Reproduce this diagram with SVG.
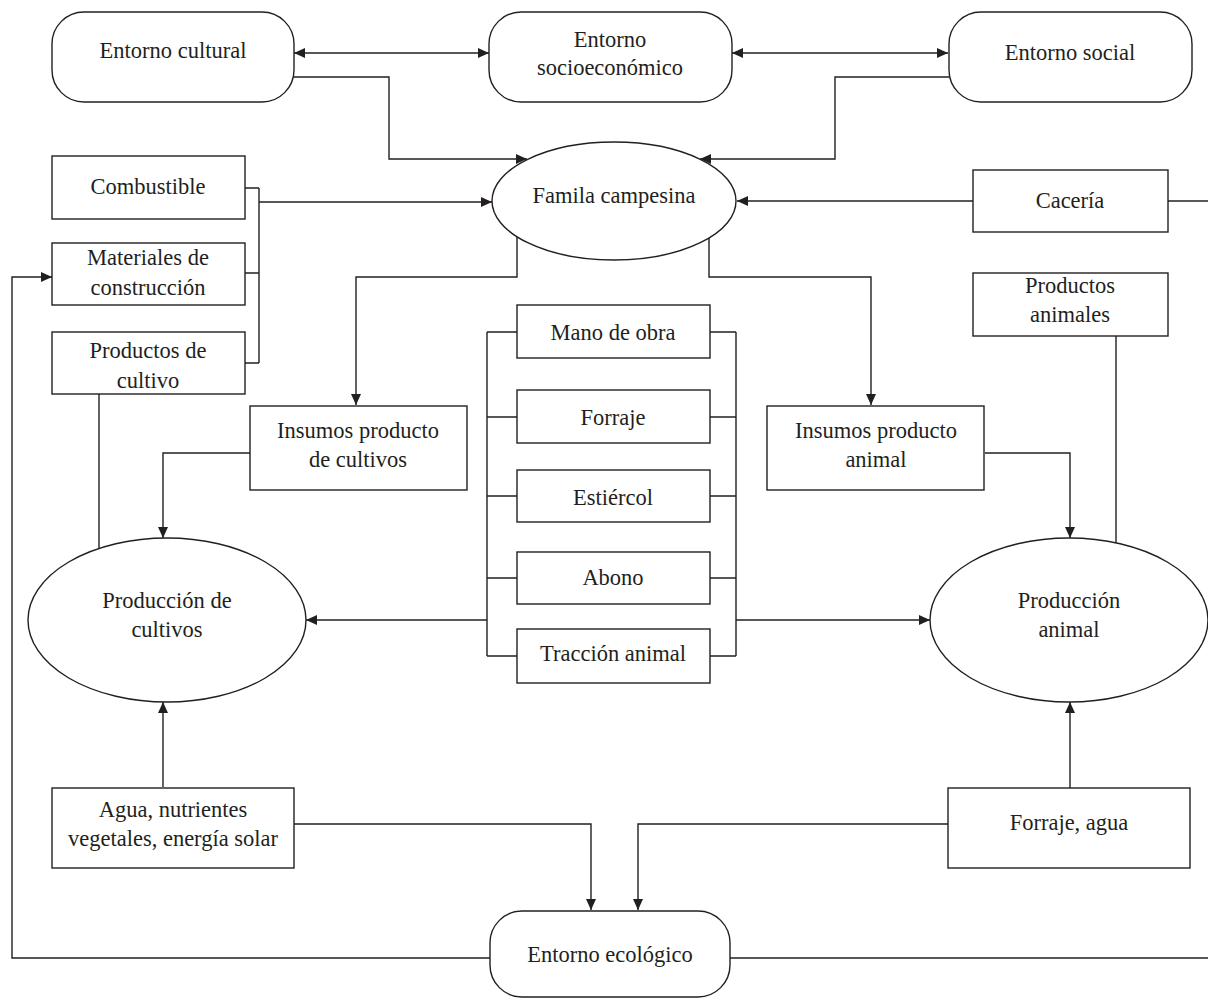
<svg xmlns="http://www.w3.org/2000/svg" width="1208" height="999" viewBox="0 0 1208 999">
<defs>
<marker id="ah" markerWidth="12" markerHeight="10" refX="11" refY="5" orient="auto-start-reverse" markerUnits="userSpaceOnUse">
<path d="M0,0 L11,5 L0,10 Z" fill="#231f20"/>
</marker>
<style>
.n{fill:#fff;stroke:#231f20;stroke-width:1.4}
.c{fill:none;stroke:#231f20;stroke-width:1.4}
.a{marker-end:url(#ah)}
.b{marker-start:url(#ah);marker-end:url(#ah)}
text{font-family:"Liberation Serif","Times New Roman",serif;font-size:22.5px;fill:#231f20;text-anchor:middle}
</style>
</defs>
<rect width="1208" height="999" fill="#fff"/>
<g id="connectors">
<path class="c b" d="M294,53 H489"/>
<path class="c b" d="M732,53 H948"/>
<path class="c a" d="M294,77 H389 V159 H527"/>
<path class="c a" d="M949,77 H835 V159 H700"/>
<path class="c" d="M245,188 H259 M245,273 H259 M245,363 H259 M259,188 V363"/>
<path class="c a" d="M259,202 H492"/>
<path class="c a" d="M973,201 H737"/>
<path class="c" d="M1168,201 H1208"/>
<path class="c a" d="M517,237 V277 H356 V405"/>
<path class="c a" d="M709,237 V277 H871 V405"/>
<path class="c a" d="M250,453 H163 V538"/>
<path class="c a" d="M985,453 H1070 V538"/>
<path class="c" d="M99,394 V549"/>
<path class="c" d="M1116,336 V543"/>
<path class="c" d="M487,332 V656 M487,332 H517 M487,417 H517 M487,496 H517 M487,578 H517 M487,656 H517"/>
<path class="c" d="M736,332 V656 M710,332 H736 M710,417 H736 M710,496 H736 M710,578 H736 M710,656 H736"/>
<path class="c a" d="M487,620 H306"/>
<path class="c a" d="M736,620 H930"/>
<path class="c a" d="M163,787 V702"/>
<path class="c a" d="M1070,788 V702"/>
<path class="c a" d="M294,824 H591 V910"/>
<path class="c a" d="M948,824 H638 V910"/>
<path class="c a" d="M490,958 H12 V277 H52"/>
<path class="c" d="M730,958 H1208"/>
</g>
<g id="entorno-cultural"><rect class="n" x="52" y="12" width="242" height="90" rx="32" ry="32"/><text x="173" y="58">Entorno cultural</text></g>
<g id="entorno-socioeconomico"><rect class="n" x="489" y="12" width="243" height="90" rx="32" ry="32"/><text x="610" y="47">Entorno</text><text x="610" y="75">socioeconómico</text></g>
<g id="entorno-social"><rect class="n" x="949" y="12" width="243" height="90" rx="32" ry="32"/><text x="1070" y="60">Entorno social</text></g>
<g id="familia"><ellipse class="n" cx="614" cy="201" rx="122" ry="59"/><text x="614" y="203">Famila campesina</text></g>
<g id="combustible"><rect class="n" x="52" y="156" width="193" height="63"/><text x="148" y="194">Combustible</text></g>
<g id="materiales"><rect class="n" x="52" y="243" width="193" height="62"/><text x="148" y="265">Materiales de</text><text x="148" y="295">construcción</text></g>
<g id="productos-cultivo"><rect class="n" x="52" y="332" width="193" height="62"/><text x="148" y="358">Productos de</text><text x="148" y="388">cultivo</text></g>
<g id="caceria"><rect class="n" x="973" y="170" width="195" height="62"/><text x="1070" y="208">Cacería</text></g>
<g id="productos-animales"><rect class="n" x="973" y="273" width="195" height="63"/><text x="1070" y="293">Productos</text><text x="1070" y="322">animales</text></g>
<g id="insumos-cultivos"><rect class="n" x="250" y="406" width="217" height="84"/><text x="358" y="438">Insumos producto</text><text x="358" y="467">de cultivos</text></g>
<g id="insumos-animal"><rect class="n" x="767" y="406" width="217" height="84"/><text x="876" y="438">Insumos producto</text><text x="876" y="467">animal</text></g>
<g id="mano-obra"><rect class="n" x="517" y="305" width="193" height="53"/><text x="613" y="340">Mano de obra</text></g>
<g id="forraje"><rect class="n" x="517" y="390" width="193" height="53"/><text x="613" y="425">Forraje</text></g>
<g id="estiercol"><rect class="n" x="517" y="470" width="193" height="52"/><text x="613" y="505">Estiércol</text></g>
<g id="abono"><rect class="n" x="517" y="552" width="193" height="52"/><text x="613" y="585">Abono</text></g>
<g id="traccion"><rect class="n" x="517" y="629" width="193" height="54"/><text x="613" y="661">Tracción animal</text></g>
<g id="produccion-cultivos"><ellipse class="n" cx="167" cy="620" rx="139" ry="82"/><text x="167" y="608">Producción de</text><text x="167" y="637">cultivos</text></g>
<g id="produccion-animal"><ellipse class="n" cx="1069" cy="620" rx="139" ry="82"/><text x="1069" y="608">Producción</text><text x="1069" y="637">animal</text></g>
<g id="agua"><rect class="n" x="52" y="788" width="242" height="80"/><text x="173" y="817">Agua, nutrientes</text><text x="173" y="846">vegetales, energía solar</text></g>
<g id="forraje-agua"><rect class="n" x="948" y="788" width="242" height="80"/><text x="1069" y="830">Forraje, agua</text></g>
<g id="entorno-ecologico"><rect class="n" x="490" y="911" width="240" height="86" rx="32" ry="32"/><text x="610" y="962">Entorno ecológico</text></g>
</svg>
